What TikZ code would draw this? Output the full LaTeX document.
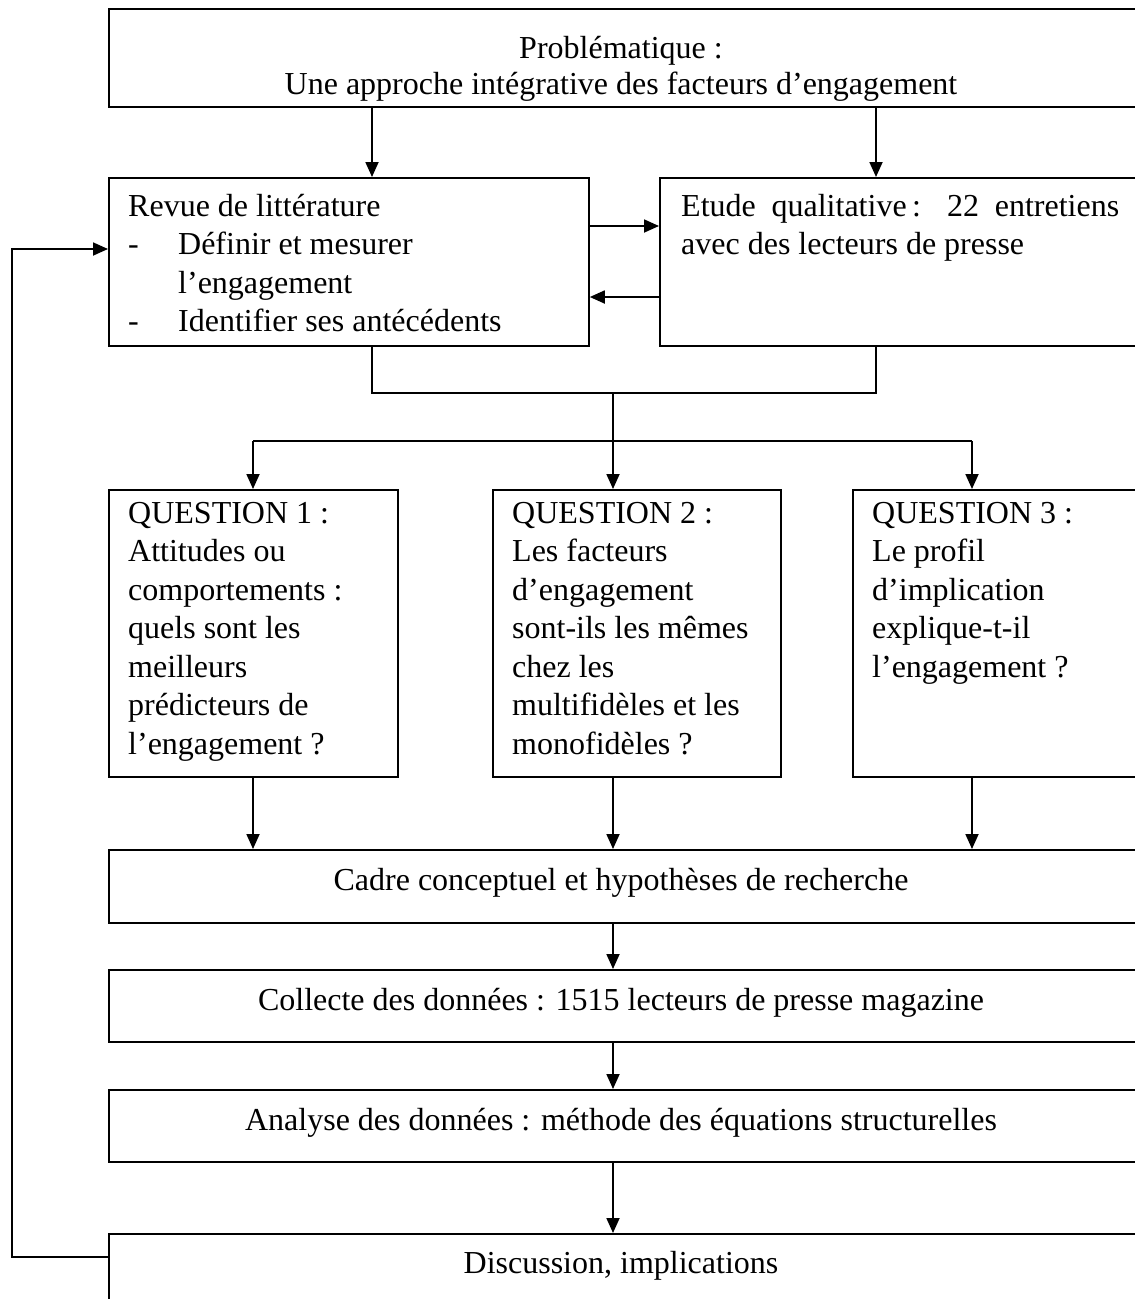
\documentclass[tikz,border=0pt]{standalone}
\usepackage{fontspec}
\setmainfont{Liberation Serif}
\usetikzlibrary{arrows.meta,calc}
\begin{document}
\begin{tikzpicture}[x=1pt,y=-1pt,
  box/.style={draw, line width=1.8pt, rectangle, inner sep=0pt, anchor=north west},
  txt/.style={inner sep=0pt, font=\fontsize{32}{38.5}\selectfont, align=left, anchor=north west},
  ctxt/.style={inner sep=0pt, font=\fontsize{32}{38.5}\selectfont, anchor=base},
  arr/.style={line width=1.8pt, -{Triangle[length=15pt,width=13pt]}},
  ln/.style={line width=1.8pt}]
\useasboundingbox (0,0) rectangle (1135,1299);
\clip (0,0) rectangle (1135,1299);
% boxes
\node[box, minimum width=1040pt, minimum height=98pt] (top) at (108,8) {};
\node[box, minimum width=480pt, minimum height=168pt] (revue) at (108,177) {};
\node[box, minimum width=490pt, minimum height=168pt] (etude) at (659,177) {};
\node[box, minimum width=289pt, minimum height=287pt] (q1) at (108,489) {};
\node[box, minimum width=288pt, minimum height=287pt] (q2) at (492,489) {};
\node[box, minimum width=300pt, minimum height=287pt] (q3) at (852,489) {};
\node[box, minimum width=1040pt, minimum height=73pt] (cadre) at (108,849) {};
\node[box, minimum width=1040pt, minimum height=72pt] (coll) at (108,969) {};
\node[box, minimum width=1040pt, minimum height=72pt] (anal) at (108,1089) {};
\node[box, minimum width=1040pt, minimum height=120pt] (disc) at (108,1233) {};
% texts
\node[ctxt] (t1) at (621,58) {Problématique :};
\node[ctxt] (t2) at (621,94) {Une approche intégrative des facteurs d’engagement};
\node[txt] (revuet) at (128,189) {\strut Revue de littérature\\\makebox[50pt][l]{-}Définir et mesurer\\\hspace*{50pt}l’engagement\\\makebox[50pt][l]{-}Identifier ses antécédents};
\node[txt] (etudet) at (681,189) {\strut\makebox[438pt][s]{Etude qualitative\,: 22 entretiens}\\avec des lecteurs de presse};
\node[txt] (q1t) at (128,496) {\strut QUESTION 1 :\\Attitudes ou\\comportements :\\quels sont les\\meilleurs\\prédicteurs de\\l’engagement ?};
\node[txt] (q2t) at (512,496) {\strut QUESTION 2 :\\Les facteurs\\d’engagement\\sont-ils les mêmes\\chez les\\multifidèles et les\\monofidèles ?};
\node[txt] (q3t) at (872,496) {\strut QUESTION 3 :\\Le profil\\d’implication\\explique-t-il\\l’engagement ?};
\node[ctxt] (tc) at (621,890) {Cadre conceptuel et hypothèses de recherche};
\node[ctxt] (tco) at (621,1010) {Collecte des données : 1515 lecteurs de presse magazine};
\node[ctxt] (tan) at (621,1130) {Analyse des données : méthode des équations structurelles};
\node[ctxt] (tdi) at (621,1273) {Discussion, implications};
% helper coordinates
\coordinate (xa) at (372,0);
\coordinate (xb) at (876,0);
\coordinate (xc) at (613,0);
\coordinate (x1) at (253,0);
\coordinate (x3) at (972,0);
\coordinate (ya) at (0,226);
\coordinate (yb) at (0,297);
\coordinate (yj) at (0,393);
\coordinate (yd) at (0,441);
\coordinate (fb1) at (12,1257);
\coordinate (fb2) at (12,249);
% connectors
\draw[arr] (top.south -| xa) -- (revue.north -| xa);
\draw[arr] (top.south -| xb) -- (etude.north -| xb);
\draw[arr] (revue.east |- ya) -- (etude.west |- ya);
\draw[arr] (etude.west |- yb) -- (revue.east |- yb);
\draw[ln] (revue.south -| xa) -- (xa |- yj) -- (xb |- yj) -- (etude.south -| xb);
\draw[ln] (xc |- yj) -- (xc |- yd);
\draw[ln] (x1 |- yd) -- (x3 |- yd);
\draw[arr] (x1 |- yd) -- (q1.north -| x1);
\draw[arr] (xc |- yd) -- (q2.north -| xc);
\draw[arr] (x3 |- yd) -- (q3.north -| x3);
\draw[arr] (q1.south -| x1) -- (cadre.north -| x1);
\draw[arr] (q2.south -| xc) -- (cadre.north -| xc);
\draw[arr] (q3.south -| x3) -- (cadre.north -| x3);
\draw[arr] (cadre.south -| xc) -- (coll.north -| xc);
\draw[arr] (coll.south -| xc) -- (anal.north -| xc);
\draw[arr] (anal.south -| xc) -- (disc.north -| xc);
\draw[arr] (disc.west |- fb1) -- (fb1) -- (fb2) -- (revue.west |- fb2);
\end{tikzpicture}
\end{document}
